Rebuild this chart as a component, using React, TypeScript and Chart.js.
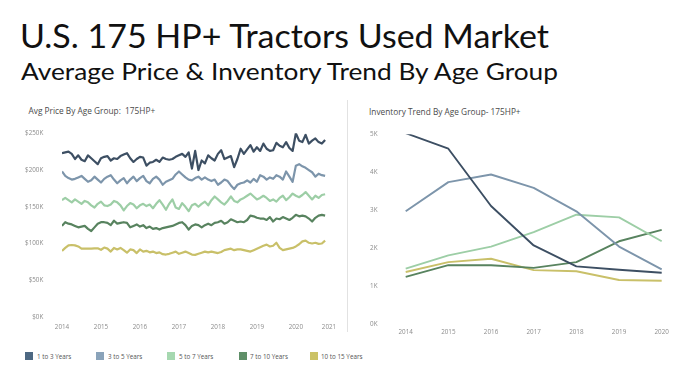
import React, { useEffect, useLayoutEffect, useRef } from 'react';
import { Chart, registerables } from 'chart.js';

Chart.register(...registerables);

// ---------- data ----------
const seriesNames = ['1 to 3 Years', '3 to 5 Years', '5 to 7 Years', '7 to 10 Years', '10 to 15 Years'];
const lineColors = ['#3d4f63', '#7d95ab', '#9dcea6', '#58835f', '#c9c069'];
const legendColors = ['#4d6882', '#8aa3ba', '#a6d8b0', '#5f8f68', '#cbc266'];

// monthly average price ($K), Jan 2014 .. Oct 2020
const priceStartYear = 2014;
const price1to3 = [223, 224, 225, 222, 215, 220, 214, 212, 220, 216, 212, 208, 216, 218, 219, 213, 216, 215, 219, 221, 223, 216, 211, 215, 218, 217, 206, 210, 211, 214, 211, 217, 215, 214, 215, 218, 220, 222, 218, 224, 202, 226, 200, 213, 209, 220, 216, 213, 222, 227, 215, 217, 219, 204, 215, 229, 222, 228, 234, 225, 231, 226, 236, 229, 226, 227, 237, 233, 231, 238, 230, 226, 250, 240, 238, 248, 236, 240, 243, 238, 236, 241];
const price3to5 = [198, 192, 189, 187, 188, 190, 192, 188, 184, 186, 191, 187, 183, 188, 191, 193, 187, 182, 186, 189, 182, 187, 191, 185, 189, 192, 185, 182, 188, 191, 187, 180, 184, 186, 188, 194, 198, 194, 190, 187, 186, 189, 191, 187, 190, 187, 185, 187, 180, 183, 187, 185, 179, 174, 180, 182, 183, 186, 183, 188, 184, 193, 191, 187, 190, 188, 193, 191, 187, 198, 191, 184, 206, 208, 205, 203, 200, 197, 191, 195, 193, 192];
const price5to7 = [159, 162, 159, 156, 160, 157, 154, 158, 156, 152, 149, 154, 157, 152, 151, 153, 158, 156, 152, 145, 151, 155, 153, 148, 152, 154, 151, 153, 148, 154, 159, 153, 146, 154, 160, 149, 147, 155, 150, 144, 152, 154, 150, 154, 157, 152, 159, 164, 160, 156, 153, 158, 164, 158, 156, 160, 162, 165, 168, 164, 160, 162, 165, 162, 158, 160, 157, 162, 165, 159, 163, 168, 165, 163, 166, 170, 165, 160, 165, 162, 166, 167];
const price7to10 = [124, 129, 127, 126, 124, 122, 123, 124, 120, 117, 122, 127, 129, 129, 128, 125, 131, 127, 128, 129, 128, 122, 124, 126, 123, 125, 121, 123, 120, 121, 119, 121, 122, 123, 124, 126, 128, 129, 125, 119, 124, 126, 125, 122, 125, 127, 125, 128, 129, 131, 127, 129, 133, 131, 129, 130, 129, 132, 138, 137, 135, 134, 134, 132, 136, 130, 134, 133, 136, 134, 132, 135, 139, 137, 138, 137, 134, 130, 135, 138, 139, 138];
const price10to15 = [90, 94, 97.5, 98, 97.5, 96, 93, 93, 93, 93, 93.5, 93.5, 91.5, 94.5, 93, 89, 94, 92, 94, 91, 87.5, 92, 91, 87, 92, 89, 90, 88, 89, 87, 88, 85.5, 85, 86, 87.5, 89, 86, 87.5, 89, 87, 85, 84.5, 86, 87.5, 89, 88, 89, 88, 87, 88.5, 91, 92, 93, 91, 92, 92, 91, 90, 89, 91, 93, 95, 97, 98.5, 96, 97, 101, 94, 91, 92, 93, 94, 96, 99, 103, 104, 101, 100, 101, 99.5, 100, 104];
const priceSeries = [price1to3, price3to5, price5to7, price7to10, price10to15];
const priceTickValues = [2014, 2015, 2016, 2017, 2018, 2019, 2020, 2020.85];
const priceTickLabels = ['2014', '2015', '2016', '2017', '2018', '2019', '2020', '2021'];
const priceAxisMax = 250;
const priceAxisStep = 50;

// yearly inventory (thousands of units)
const inventoryYears = ['2014', '2015', '2016', '2017', '2018', '2019', '2020'];
const inv1to3 = [5.03, 4.62, 3.11, 2.07, 1.52, 1.43, 1.35];
const inv3to5 = [2.97, 3.74, 3.94, 3.59, 2.97, 2.04, 1.44];
const inv5to7 = [1.46, 1.81, 2.04, 2.42, 2.88, 2.81, 2.18];
const inv7to10 = [1.24, 1.55, 1.55, 1.48, 1.63, 2.18, 2.48];
const inv10to15 = [1.37, 1.63, 1.72, 1.42, 1.39, 1.16, 1.14];
const inventorySeries = [inv1to3, inv3to5, inv5to7, inv7to10, inv10to15];
const inventoryAxisMax = 5;

const tickFont = { family: '"Open Sans", "DejaVu Sans", sans-serif', size: 6.3 };
const tickColor = '#8c8c8c';

export default function App() {
  const leftRef = useRef<HTMLCanvasElement>(null);
  const rightRef = useRef<HTMLCanvasElement>(null);
  const titleRef = useRef<HTMLDivElement>(null);
  const subRef = useRef<HTMLDivElement>(null);

  useLayoutEffect(() => {
    const fit = (el: HTMLDivElement | null, w: number) => {
      if (!el) return;
      el.style.transform = 'none';
      const cw = el.getBoundingClientRect().width;
      if (cw > 0) el.style.transform = `scaleX(${w / cw})`;
    };
    fit(titleRef.current, 529);
    fit(subRef.current, 537);
  }, []);

  useEffect(() => {
    const months = price1to3.map((_, i) => priceStartYear + i / 12);
    const left = new Chart(leftRef.current as HTMLCanvasElement, {
      type: 'line',
      data: {
        datasets: priceSeries.map((vals, k) => ({
          label: seriesNames[k],
          data: vals.map((v, i) => ({ x: months[i], y: v })),
          borderColor: lineColors[k],
          backgroundColor: lineColors[k],
          borderWidth: 2.2,
          pointRadius: 0,
          tension: 0,
          fill: false,
          borderJoinStyle: 'round' as const,
        })),
      },
      options: {
        animation: false,
        responsive: false,
        events: [],
        layout: { padding: { top: 8.3, right: 18, left: 0, bottom: 0 } },
        plugins: { legend: { display: false }, tooltip: { enabled: false } },
        scales: {
          x: {
            type: 'linear',
            min: priceStartYear,
            max: priceTickValues[priceTickValues.length - 1],
            grid: { display: false, drawTicks: true, tickLength: 6 },
            border: { display: false },
            afterBuildTicks: (s: any) => {
              s.ticks = priceTickValues.map((v) => ({ value: v }));
            },
            afterFit: (s: any) => {
              s.height = 23;
            },
            ticks: {
              padding: 0,
              color: tickColor,
              font: tickFont,
              autoSkip: false,
              maxRotation: 0,
              callback: (_v: any, i: number) => priceTickLabels[i],
            },
          },
          y: {
            min: 0,
            max: priceAxisMax,
            grid: { display: false, drawTicks: true, tickLength: 18.7 },
            border: { display: false },
            afterFit: (s: any) => {
              s.width = 62;
            },
            ticks: {
              stepSize: priceAxisStep,
              padding: 0,
              color: tickColor,
              font: tickFont,
              callback: (v: any) => '$' + v + 'K',
            },
          },
        },
      },
    });

    const right = new Chart(rightRef.current as HTMLCanvasElement, {
      type: 'line',
      data: {
        labels: inventoryYears,
        datasets: inventorySeries.map((vals, k) => ({
          label: seriesNames[k],
          data: vals,
          borderColor: lineColors[k],
          backgroundColor: lineColors[k],
          borderWidth: 1.9,
          pointRadius: 0,
          tension: 0,
          fill: false,
          borderJoinStyle: 'round' as const,
        })),
      },
      options: {
        animation: false,
        responsive: false,
        events: [],
        layout: { padding: { top: 9.3, right: 38.3, left: 0, bottom: 0 } },
        plugins: { legend: { display: false }, tooltip: { enabled: false } },
        scales: {
          x: {
            type: 'category',
            offset: false,
            grid: { display: false, drawTicks: true, tickLength: 4 },
            border: { display: false },
            afterFit: (s: any) => {
              s.height = 16;
            },
            ticks: { padding: 0, color: tickColor, font: tickFont, maxRotation: 0, autoSkip: false },
          },
          y: {
            min: 0,
            max: inventoryAxisMax,
            grid: { display: false, drawTicks: true, tickLength: 28.2 },
            border: { display: false },
            afterFit: (s: any) => {
              s.width = 57.7;
            },
            ticks: {
              stepSize: 1,
              padding: 0,
              color: tickColor,
              font: tickFont,
              callback: (v: any) => v + 'K',
            },
          },
        },
      },
    });

    return () => {
      left.destroy();
      right.destroy();
    };
  }, []);

  const titleFont = 'Lato, "Open Sans", sans-serif';
  const smallFont = '"Open Sans", "DejaVu Sans", sans-serif';

  return (
    <div
      style={{
        position: 'absolute',
        left: 0,
        top: 0,
        width: 700,
        height: 383,
        background: '#ffffff',
        overflow: 'hidden',
      }}
    >
      <div
        ref={titleRef}
        style={{
          position: 'absolute',
          left: 19.5,
          top: 19.5,
          fontFamily: titleFont,
          fontSize: 32.5,
          lineHeight: '32.5px',
          color: '#111',
          whiteSpace: 'nowrap',
          transformOrigin: 'left top',
        }}
      >
        U.S. 175 HP+ Tractors Used Market
      </div>
      <div
        ref={subRef}
        style={{
          position: 'absolute',
          left: 21,
          top: 59.4,
          fontFamily: titleFont,
          fontSize: 24,
          lineHeight: '24px',
          color: '#111',
          whiteSpace: 'nowrap',
          transformOrigin: 'left top',
        }}
      >
        Average Price &amp; Inventory Trend By Age Group
      </div>

      <div
        style={{
          position: 'absolute',
          left: 28.5,
          top: 105.5,
          fontFamily: smallFont,
          fontSize: 8.3,
          lineHeight: '10px',
          color: '#4a4a4a',
          whiteSpace: 'pre',
        }}
      >
        {'Avg Price By Age Group:  175HP+'}
      </div>
      <div
        style={{
          position: 'absolute',
          left: 369,
          top: 106.5,
          fontFamily: smallFont,
          fontSize: 8.3,
          lineHeight: '10px',
          color: '#4a4a4a',
          whiteSpace: 'pre',
        }}
      >
        {'Inventory Trend By Age Group- 175HP+'}
      </div>

      <div style={{ position: 'absolute', left: 347, top: 100, width: 1, height: 232, background: '#e2e2e2' }} />

      <canvas
        ref={leftRef}
        width={347}
        height={215}
        style={{ position: 'absolute', left: 0, top: 125, width: 347, height: 215 }}
      />
      <canvas
        ref={rightRef}
        width={352}
        height={215}
        style={{ position: 'absolute', left: 348, top: 125, width: 352, height: 215 }}
      />

      {seriesNames.map((name, k) => (
        <div
          key={name}
          style={{ position: 'absolute', left: 25 + k * 71.2, top: 351.5, height: 10, whiteSpace: 'nowrap' }}
        >
          <div
            style={{
              position: 'absolute',
              left: 0,
              top: 0.5,
              width: 8,
              height: 8,
              background: legendColors[k],
            }}
          />
          <div
            style={{
              position: 'absolute',
              left: 11.7,
              top: 0,
              fontFamily: smallFont,
              fontSize: 7.5,
              lineHeight: '9px',
              color: '#555',
              transform: 'scaleX(0.84)',
              transformOrigin: 'left top',
            }}
          >
            {name}
          </div>
        </div>
      ))}
    </div>
  );
}
